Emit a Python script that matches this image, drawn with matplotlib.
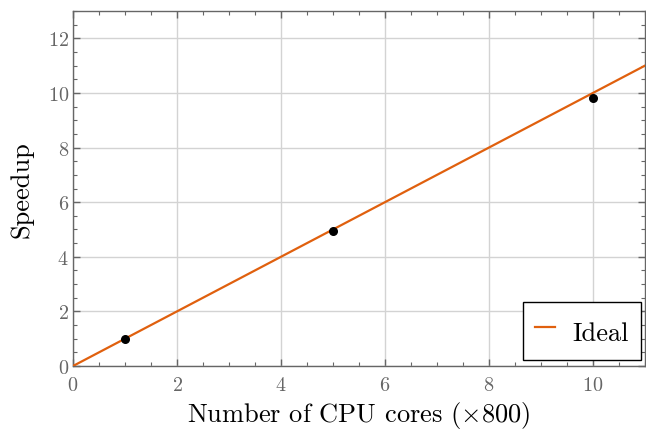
import matplotlib
matplotlib.use("Agg")
import matplotlib.pyplot as plt
from matplotlib.ticker import MultipleLocator

cores = [1, 5, 10]
speedup = [1.0, 4.95, 9.82]
ideal_x = [0, 11]
ideal_y = [0, 11]

plt.rcParams['font.family'] = 'serif'
plt.rcParams['font.serif'] = ['cmr10']
plt.rcParams['mathtext.fontset'] = 'cm'
plt.rcParams['axes.formatter.use_mathtext'] = True
plt.rcParams['xtick.labelsize'] = 14.5
plt.rcParams['ytick.labelsize'] = 14.5

fig = plt.figure(figsize=(6.46, 4.31), dpi=100)
ax = fig.add_axes([73/646, 1 - 367/431, (645-73)/646, (367-12)/431])

gray = '#666666'
ax.plot(ideal_x, ideal_y, color='#E0600E', lw=1.6, label='Ideal', zorder=3)
ax.scatter(cores, speedup, color='black', s=30, zorder=4)

ax.set_xlim(0, 11)
ax.set_ylim(0, 13)
ax.xaxis.set_major_locator(MultipleLocator(2))
ax.yaxis.set_major_locator(MultipleLocator(2))
ax.xaxis.set_minor_locator(MultipleLocator(0.5))
ax.yaxis.set_minor_locator(MultipleLocator(0.5))
ax.grid(True, which='major', color='#d3d3d3', lw=1.0)
ax.set_axisbelow(True)
ax.tick_params(which='both', direction='in', top=True, right=True, colors=gray, labelcolor=gray)
ax.tick_params(which='major', length=5, width=1)
ax.tick_params(which='minor', length=3, width=0.8)
ax.tick_params(axis='x', pad=7)
ax.tick_params(axis='y', pad=3)
for s in ax.spines.values():
    s.set_color(gray)
    s.set_linewidth(1.0)

ax.set_xlabel(r'Number of CPU cores $(\times 800)$', fontsize=19)
ax.xaxis.set_label_coords(0.5, (367 - 422.5) / 355)
ax.xaxis.label.set_va('baseline')
ax.set_ylabel('Speedup', fontsize=19, labelpad=10)

leg = ax.legend(loc='lower right', fontsize=19, fancybox=False, framealpha=1,
                edgecolor='black', handlelength=0.75, borderpad=0.45,
                handletextpad=0.68, handleheight=1.6, borderaxespad=0,
                bbox_to_anchor=((641-73)/572, (367-361)/355))
leg.get_frame().set_linewidth(1.0)

fig.savefig('out.png', dpi=100)
